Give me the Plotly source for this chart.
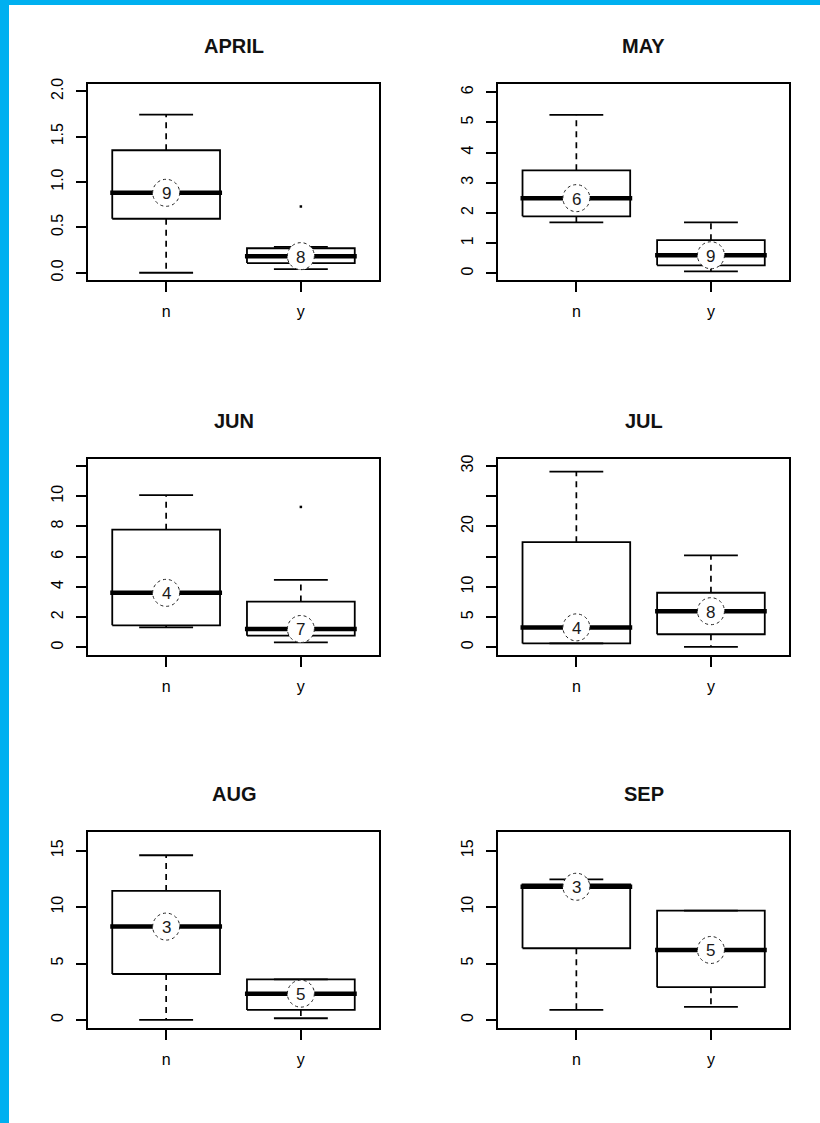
import plotly.graph_objects as go

# Monthly box plots of the two groups (n / y) with the group size shown on each median
months = ["APRIL", "MAY", "JUN", "JUL", "AUG", "SEP"]
groups = ["n", "y"]

# five-number summaries per month, one pair [n, y] per month
lower_whisker = [[0.0, 0.04], [1.69, 0.066], [1.33, 0.33], [0.65, 0.06], [0.0, 0.15], [0.89, 1.15]]
quart1 = [[0.595, 0.106], [1.89, 0.265], [1.46, 0.78], [0.65, 2.16], [4.07, 0.89], [6.35, 2.90]]
medians = [[0.881, 0.183], [2.49, 0.60], [3.61, 1.22], [3.30, 5.98], [8.27, 2.33], [11.8, 6.2]]
quart3 = [[1.35, 0.27], [3.41, 1.10], [7.79, 3.03], [17.39, 9.03], [11.43, 3.60], [12.0, 9.68]]
upper_whisker = [[1.743, 0.285], [5.25, 1.69], [10.07, 4.47], [29.06, 15.22], [14.59, 3.60], [12.46, 9.68]]
counts = [[9, 8], [6, 9], [4, 7], [4, 8], [3, 5], [3, 5]]
outliers = [[[], [0.73]], [[], []], [[], [9.29]], [[], []], [[], []], [[], []]]

# y-axis scales per month
y_ranges = [[-0.08, 2.08], [-0.22, 6.27], [-0.5, 12.46], [-1.27, 31.16], [-0.74, 16.65], [-0.74, 16.65]]
y_tickvals = [
    [0.0, 0.5, 1.0, 1.5, 2.0],
    [0, 1, 2, 3, 4, 5, 6],
    [0, 2, 4, 6, 8, 10, 12],
    [0, 5, 10, 15, 20, 25, 30],
    [0, 5, 10, 15],
    [0, 5, 10, 15],
]
y_ticktext = [
    ["0.0", "0.5", "1.0", "1.5", "2.0"],
    ["0", "1", "2", "3", "4", "5", "6"],
    ["0", "2", "4", "6", "8", "10", ""],
    ["0", "5", "10", "", "20", "", "30"],
    ["0", "5", "10", "15"],
    ["0", "5", "10", "15"],
]

W, H = 820, 1123
FONT = "Liberation Sans, Arial, sans-serif"
BOX_HALF = 0.4
CAP_HALF = 0.2
MED_HALF = 0.415

# panel placement in pixels: column x-extents and row y-extents (from top)
col_px = [(88, 379), (498.3, 789)]
row_px = [(84, 280), (459, 655), (832, 1028.3)]

fig = go.Figure()
layout = dict(
    width=W, height=H,
    margin=dict(l=0, r=0, t=0, b=0, autoexpand=False),
    paper_bgcolor="white", plot_bgcolor="white",
    showlegend=False,
    font=dict(family=FONT, color="black"),
)
shapes = []
annotations = []

for i, month in enumerate(months):
    r, c = divmod(i, 2)
    sfx = "" if i == 0 else str(i + 1)
    xref, yref = "x" + sfx, "y" + sfx
    x0p, x1p = col_px[c]
    y0p, y1p = row_px[r]
    xdom = [x0p / W, x1p / W]
    ydom = [1 - y1p / H, 1 - y0p / H]

    dash_x, dash_y = [], []
    solid_x, solid_y = [], []
    med_x, med_y = [], []
    out_x, out_y = [], []
    for j, g in enumerate(groups):
        p = j + 1
        lw, a, m, b, uw = (lower_whisker[i][j], quart1[i][j], medians[i][j],
                           quart3[i][j], upper_whisker[i][j])
        # dashed whiskers
        if uw > b:
            dash_x += [p, p, None]
            dash_y += [b, uw, None]
        if lw < a:
            dash_x += [p, p, None]
            dash_y += [a, lw, None]
        # staples
        solid_x += [p - CAP_HALF, p + CAP_HALF, None, p - CAP_HALF, p + CAP_HALF, None]
        solid_y += [uw, uw, None, lw, lw, None]
        # box outline
        solid_x += [p - BOX_HALF, p + BOX_HALF, p + BOX_HALF, p - BOX_HALF, p - BOX_HALF, None]
        solid_y += [a, a, b, b, a, None]
        # median
        med_x += [p - MED_HALF, p + MED_HALF, None]
        med_y += [m, m, None]
        for v in outliers[i][j]:
            out_x.append(p)
            out_y.append(v)

        # group-size badge on the median
        shapes.append(dict(
            type="circle", xref=xref, yref=yref,
            xsizemode="pixel", ysizemode="pixel",
            xanchor=p, yanchor=m,
            x0=-13.5, x1=13.5, y0=-13.5, y1=13.5,
            fillcolor="white", line=dict(color="#222", width=1, dash="dot"),
            layer="above",
        ))
        annotations.append(dict(
            x=p, y=m, xref=xref, yref=yref, text=str(counts[i][j]),
            showarrow=False, yshift=-1,
            font=dict(family=FONT, size=17, color="#1a1a1a"),
        ))

    common = dict(xaxis=xref, yaxis=yref, hoverinfo="skip", mode="lines")
    fig.add_trace(go.Scatter(x=dash_x, y=dash_y,
                             line=dict(color="black", width=1.7, dash="6px,5px"), **common))
    fig.add_trace(go.Scatter(x=solid_x, y=solid_y,
                             line=dict(color="black", width=1.8), **common))
    fig.add_trace(go.Scatter(x=med_x, y=med_y,
                             line=dict(color="black", width=4.5), **common))
    if out_x:
        fig.add_trace(go.Scatter(x=out_x, y=out_y, mode="markers", xaxis=xref, yaxis=yref,
                                 hoverinfo="skip",
                                 marker=dict(symbol="square", size=2.5, color="black",
                                             line=dict(width=0))))

    axis_common = dict(
        showline=True, mirror=True, linecolor="black", linewidth=1.8,
        ticks="outside", ticklen=10, tickwidth=1.6, tickcolor="black",
        showgrid=False, zeroline=False, fixedrange=True, automargin=False,
        tickfont=dict(family=FONT, size=16, color="black"),
    )
    layout["xaxis" + sfx] = dict(
        domain=xdom, range=[0.42, 2.58], anchor=yref,
        tickmode="array", tickvals=[1, 2], ticktext=groups,
        ticklabelstandoff=6, **axis_common,
    )
    layout["yaxis" + sfx] = dict(
        domain=ydom, range=y_ranges[i], anchor=xref,
        tickmode="array", tickvals=y_tickvals[i], ticktext=y_ticktext[i],
        tickangle=-90, ticklabelstandoff=7, **axis_common,
    )

    annotations.append(dict(
        x=(xdom[0] + xdom[1]) / 2, y=1 - (y0p - 38) / H,
        xref="paper", yref="paper", text="<b>" + month + "</b>",
        showarrow=False, xanchor="center", yanchor="middle",
        font=dict(family=FONT, size=20, color="#111"),
    ))

# cyan frame along the left and top edges of the page
shapes.append(dict(type="rect", xref="paper", yref="paper", x0=0, x1=9 / W, y0=0, y1=1,
                   fillcolor="#00B0F0", line=dict(width=0), layer="above"))
shapes.append(dict(type="rect", xref="paper", yref="paper", x0=0, x1=1, y0=1 - 5 / H, y1=1,
                   fillcolor="#00B0F0", line=dict(width=0), layer="above"))

layout["shapes"] = shapes
layout["annotations"] = annotations
fig.update_layout(**layout)
fig.write_html(
    "out.html",
    config={"displayModeBar": False},
    post_script="document.body.style.margin='0';document.body.style.padding='0';",
)
